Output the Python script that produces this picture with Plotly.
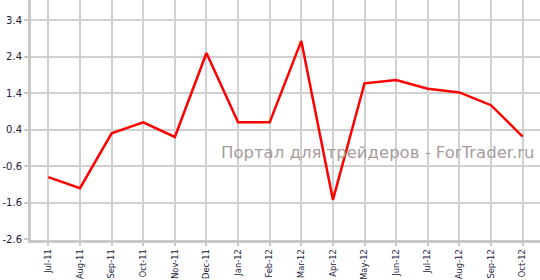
import plotly.graph_objects as go

months = ["Jul-11", "Aug-11", "Sep-11", "Oct-11", "Nov-11", "Dec-11", "Jan-12", "Feb-12",
          "Mar-12", "Apr-12", "May-12", "Jun-12", "Jul-12", "Aug-12", "Sep-12", "Oct-12"]
values = [-0.9, -1.2, 0.3, 0.6, 0.2, 2.5, 0.6, 0.6, 2.83, -1.52, 1.67, 1.76, 1.52, 1.42, 1.07, 0.21]
y_ticks = [-2.6, -1.6, -0.6, 0.4, 1.4, 2.4, 3.4]
watermark = "Портал для трейдеров - ForTrader.ru"

x_idx = list(range(len(months)))

fig = go.Figure()
fig.add_trace(go.Scatter(x=x_idx, y=values, mode="lines",
                         line=dict(color="#ff0000", width=2.5), hoverinfo="skip"))

fig.update_layout(
    width=540, height=280,
    margin=dict(l=31, r=0, t=0, b=40),
    paper_bgcolor="white", plot_bgcolor="white",
    showlegend=False,
    font=dict(family="DejaVu Sans", size=10, color="#1a1a3a"),
    xaxis=dict(range=[-0.55, 15.55], tickmode="array", tickvals=x_idx, ticktext=months,
               tickangle=-90, showgrid=True, gridcolor="#d0d0d0", gridwidth=1.5,
               tickfont=dict(size=8.3),
               zeroline=False, showline=True, linecolor="#c8c8c8", linewidth=3,
               ticks="outside", ticklen=3, tickcolor="#c8c8c8", tickwidth=1.5,
               automargin=False),
    yaxis=dict(range=[-2.62, 3.95], tickmode="array", tickvals=y_ticks,
               ticktext=[f"{v:.1f}" for v in y_ticks],
               showgrid=True, gridcolor="#d0d0d0", gridwidth=1.5,
               zeroline=False, showline=True, linecolor="#c8c8c8", linewidth=3,
               ticks="outside", ticklen=4, tickcolor="#c8c8c8", tickwidth=1.5,
               automargin=False),
)

fig.add_annotation(text=watermark, xref="paper", yref="paper", x=0.995, y=0.365,
                   xanchor="right", yanchor="middle", showarrow=False,
                   font=dict(family="DejaVu Sans", size=16.5, color="#a89c9c"))

fig.write_html("out.html")
